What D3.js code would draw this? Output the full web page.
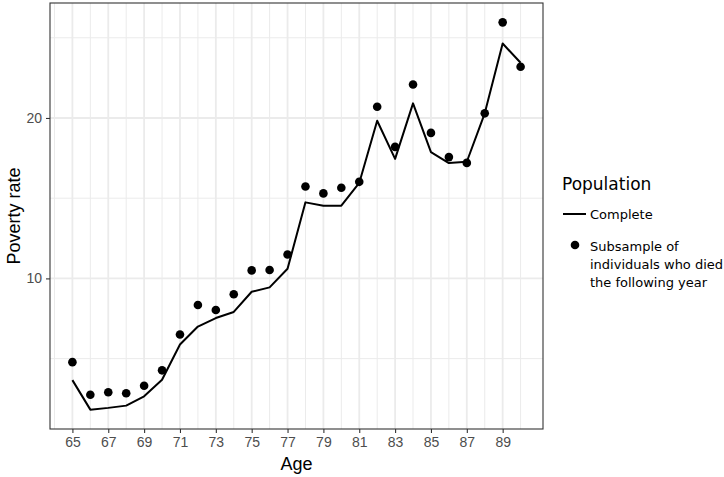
<!DOCTYPE html>
<html>
<head>
<meta charset="utf-8">
<script src="https://cdn.jsdelivr.net/npm/d3@7"></script>
<style>
  body { margin: 0; background: #fff; }
  svg { display: block; font-family: "Liberation Sans", Arial, sans-serif; }
</style>
</head>
<body>
<svg id="chart" width="724" height="477"></svg>
<script>
// ages 65..90
const ages = d3.range(65, 91)
// poverty rate, complete population (line)
const complete = [3.66, 1.82, 1.93, 2.07, 2.65, 3.68, 5.88, 7.00, 7.53, 7.91, 9.17, 9.44, 10.60,
  14.74, 14.53, 14.53, 15.95, 19.83, 17.45, 20.91, 17.87, 17.19, 17.27, 20.29, 24.64, 23.44]
// subsample who died the following year (points)
const died = [4.78, 2.75, 2.90, 2.84, 3.31, 4.27, 6.50, 8.34, 8.03, 9.01, 10.50, 10.52, 11.49,
  15.73, 15.30, 15.65, 16.02, 20.70, 18.20, 22.09, 19.07, 17.56, 17.20, 20.29, 25.96, 23.19]
const xTicks = [65, 67, 69, 71, 73, 75, 77, 79, 81, 83, 85, 87, 89]
const yTicks = [10, 20]

const svg = d3.select('#chart')
const margin = { top: 3, left: 50, right: 181, bottom: 48 }
const width = 724 - margin.left - margin.right
const height = 477 - margin.top - margin.bottom

const allVals = complete.concat(died)
const yMin = d3.min(allVals), yMax = d3.max(allVals)
const yPad = (yMax - yMin) * 0.05
const x = d3.scaleLinear().domain([63.75, 91.25]).range([0, width])
const y = d3.scaleLinear().domain([yMin - yPad, yMax + yPad]).range([height, 0])

const g = svg.append('g').attr('transform', `translate(${margin.left},${margin.top})`)

// grid: minor then major
const xMinor = d3.range(64, 92, 2)
const yMinor = [5, 15, 25]
g.selectAll('.xminor').data(xMinor).enter().append('line')
  .attr('x1', d => x(d)).attr('x2', d => x(d)).attr('y1', 0).attr('y2', height)
  .attr('stroke', '#ebebeb').attr('stroke-width', 1)
g.selectAll('.yminor').data(yMinor).enter().append('line')
  .attr('y1', d => y(d)).attr('y2', d => y(d)).attr('x1', 0).attr('x2', width)
  .attr('stroke', '#ebebeb').attr('stroke-width', 1)
g.selectAll('.xmajor').data(xTicks).enter().append('line')
  .attr('x1', d => x(d)).attr('x2', d => x(d)).attr('y1', 0).attr('y2', height)
  .attr('stroke', '#ebebeb').attr('stroke-width', 1.8)
g.selectAll('.ymajor').data(yTicks).enter().append('line')
  .attr('y1', d => y(d)).attr('y2', d => y(d)).attr('x1', 0).attr('x2', width)
  .attr('stroke', '#ebebeb').attr('stroke-width', 1.8)

// line
const line = d3.line().x((d, i) => x(ages[i])).y(d => y(d))
g.append('path').datum(complete)
  .attr('d', line).attr('fill', 'none').attr('stroke', '#000')
  .attr('stroke-width', 2).attr('stroke-linejoin', 'round')

// points
g.selectAll('.dot').data(died).enter().append('circle')
  .attr('cx', (d, i) => x(ages[i])).attr('cy', d => y(d)).attr('r', 4.3).attr('fill', '#000')

// panel border
g.append('rect').attr('width', width).attr('height', height)
  .attr('fill', 'none').attr('stroke', '#333333').attr('stroke-width', 1.1)

// axes
const xAxis = g.append('g').attr('transform', `translate(0,${height})`)
  .call(d3.axisBottom(x).tickValues(xTicks).tickSize(4).tickPadding(4).tickFormat(d3.format('d')))
const yAxis = g.append('g')
  .call(d3.axisLeft(y).tickValues(yTicks).tickSize(4).tickPadding(4))
;[xAxis, yAxis].forEach(a => {
  a.select('.domain').remove()
  a.selectAll('line').attr('stroke', '#333333').attr('stroke-width', 1.1)
  a.selectAll('text').attr('fill', '#4d4d4d').style('font-size', '14px')
})

// titles
svg.append('text').attr('x', margin.left + width / 2).attr('y', 470)
  .attr('text-anchor', 'middle').style('font-size', '18px').text('Age')
svg.append('text').attr('transform', `translate(20,${margin.top + height / 2}) rotate(-90)`)
  .attr('text-anchor', 'middle').style('font-size', '18px').text('Poverty rate')

// legend
const leg = svg.append('g').attr('transform', 'translate(562,0)')
  .style('font-family', '"DejaVu Sans", Verdana, sans-serif')
leg.append('text').attr('x', 0).attr('y', 190).style('font-size', '17px').text('Population')
leg.append('line').attr('x1', 1).attr('x2', 24).attr('y1', 214).attr('y2', 214)
  .attr('stroke', '#000').attr('stroke-width', 2)
leg.append('text').attr('x', 28).attr('y', 219).style('font-size', '13px').text('Complete')
leg.append('circle').attr('cx', 13).attr('cy', 245).attr('r', 4.3).attr('fill', '#000')
const sub = ['Subsample of', 'individuals who died', 'the following year']
leg.selectAll('.sub').data(sub).enter().append('text')
  .attr('x', 28).attr('y', (d, i) => 251 + i * 18).style('font-size', '13px').text(d => d)
</script>
</body>
</html>
